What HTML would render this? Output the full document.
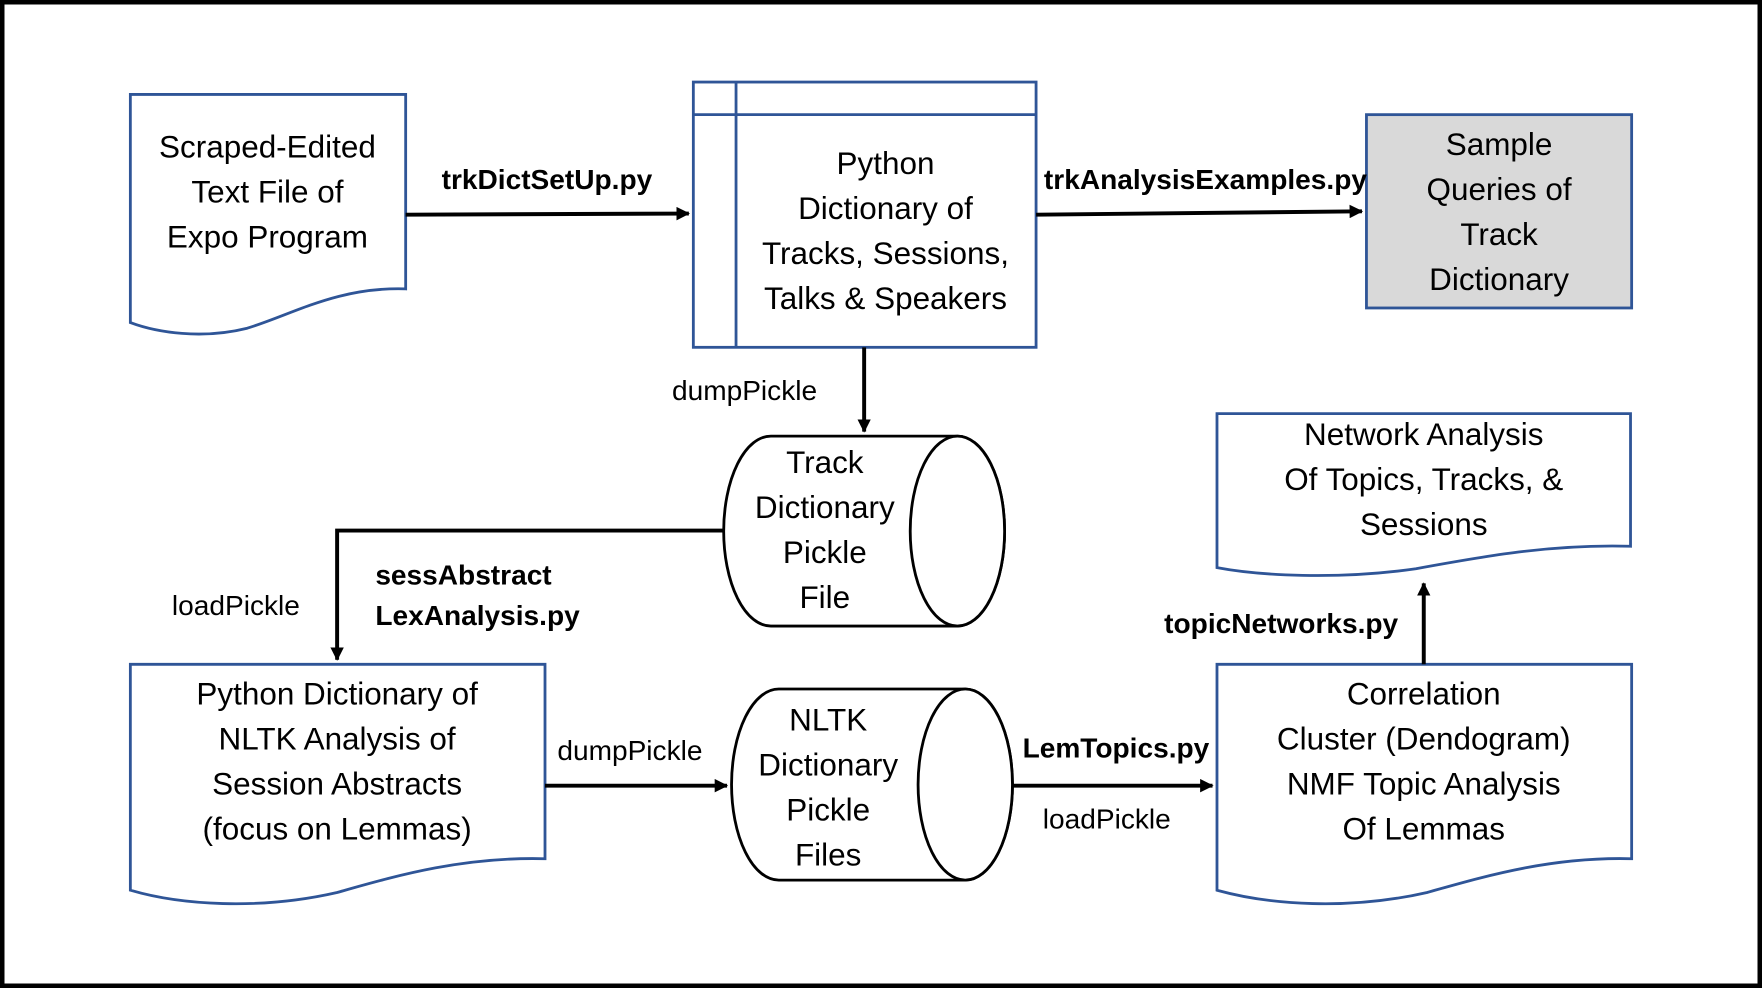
<!DOCTYPE html>
<html><head><meta charset="utf-8"><style>
html,body{margin:0;padding:0;background:#fff;}
svg{display:block;}
text{font-family:"Liberation Sans",sans-serif;}
.b{font-size:28px;fill:#000;text-anchor:middle;}
.l{font-size:25px;fill:#000;}
.lb{font-size:25px;font-weight:bold;fill:#000;}
</style></head><body>
<svg width="1762" height="988" viewBox="0 0 1568 879" preserveAspectRatio="none" xmlns="http://www.w3.org/2000/svg">
<defs><marker id="a" markerWidth="12" markerHeight="12" refX="11" refY="6" orient="auto" markerUnits="userSpaceOnUse"><path d="M0,0 L12,6 L0,12 z" fill="#000"/></marker></defs>
<rect x="2" y="2" width="1564" height="875" fill="#fff" stroke="#000" stroke-width="4"/>
<g fill="#fff" stroke="#2F5597" stroke-width="2.5">
<path d="M116,84 H361 V257 C300,255 260,280 220,292 C180,302 140,296 116,287 Z"/>
<rect x="617" y="73" width="305" height="236"/>
<line x1="617" y1="102" x2="922" y2="102"/><line x1="655" y1="73" x2="655" y2="309"/>
<rect x="1216" y="102" width="236" height="172" fill="#d9d9d9"/>
<path d="M1083,368 H1451 V486 C1380,484 1320,495 1260,506 C1190,516 1120,512 1083,505 Z"/>
<path d="M116,591 H485 V764 C410,762 350,780 300,794 C230,810 160,805 116,792 Z"/>
<path d="M1083,591 H1452 V764 C1380,762 1320,780 1270,794 C1200,810 1130,805 1083,792 Z"/>
</g>
<g fill="#fff" stroke="#000" stroke-width="2.5">
<path d="M686,388 H852 A42,84.5 0 0 1 852,557 H686 A42,84.5 0 0 1 686,388 Z"/>
<ellipse cx="852" cy="472.5" rx="42" ry="84.5"/>
<path d="M693,613 H859 A42,85 0 0 1 859,783 H693 A42,85 0 0 1 693,613 Z"/>
<ellipse cx="859" cy="698" rx="42" ry="85"/>
</g>
<g stroke="#000" stroke-width="3.5" fill="none" marker-end="url(#a)">
<line x1="361" y1="191" x2="613" y2="190"/>
<line x1="922" y1="191" x2="1212" y2="188"/>
<line x1="769" y1="309" x2="769" y2="384"/>
<polyline points="643,472 300,472 300,587"/>
<line x1="485" y1="699" x2="647" y2="699"/>
<line x1="901" y1="699" x2="1079" y2="699"/>
<line x1="1267" y1="591" x2="1267" y2="519"/>
</g>
<text class="b" x="238" y="140">Scraped-Edited</text>
<text class="b" x="238" y="180">Text File of</text>
<text class="b" x="238" y="220">Expo Program</text>
<text class="b" x="788" y="155">Python</text>
<text class="b" x="788" y="195">Dictionary of</text>
<text class="b" x="788" y="235">Tracks, Sessions,</text>
<text class="b" x="788" y="275">Talks &amp; Speakers</text>
<text class="b" x="1334" y="138">Sample</text>
<text class="b" x="1334" y="178">Queries of</text>
<text class="b" x="1334" y="218">Track</text>
<text class="b" x="1334" y="258">Dictionary</text>
<text class="b" x="734" y="421">Track</text>
<text class="b" x="734" y="461">Dictionary</text>
<text class="b" x="734" y="501">Pickle</text>
<text class="b" x="734" y="541">File</text>
<text class="b" x="737" y="650">NLTK</text>
<text class="b" x="737" y="690">Dictionary</text>
<text class="b" x="737" y="730">Pickle</text>
<text class="b" x="737" y="770">Files</text>
<text class="b" x="1267" y="396">Network Analysis</text>
<text class="b" x="1267" y="436">Of Topics, Tracks, &amp;</text>
<text class="b" x="1267" y="476">Sessions</text>
<text class="b" x="300" y="627">Python Dictionary of</text>
<text class="b" x="300" y="667">NLTK Analysis of</text>
<text class="b" x="300" y="707">Session Abstracts</text>
<text class="b" x="300" y="747">(focus on Lemmas)</text>
<text class="b" x="1267" y="627">Correlation</text>
<text class="b" x="1267" y="667">Cluster (Dendogram)</text>
<text class="b" x="1267" y="707">NMF Topic Analysis</text>
<text class="b" x="1267" y="747">Of Lemmas</text>
<text class="lb" x="393" y="168">trkDictSetUp.py</text>
<text class="lb" x="929" y="168">trkAnalysisExamples.py</text>
<text class="l" x="598" y="356">dumpPickle</text>
<text class="l" x="153" y="547">loadPickle</text>
<text class="lb" x="334" y="520">sessAbstract</text>
<text class="lb" x="334" y="556">LexAnalysis.py</text>
<text class="l" x="496" y="676">dumpPickle</text>
<text class="lb" x="910" y="674">LemTopics.py</text>
<text class="l" x="928" y="737">loadPickle</text>
<text class="lb" x="1036" y="563">topicNetworks.py</text>
</svg>
</body></html>
